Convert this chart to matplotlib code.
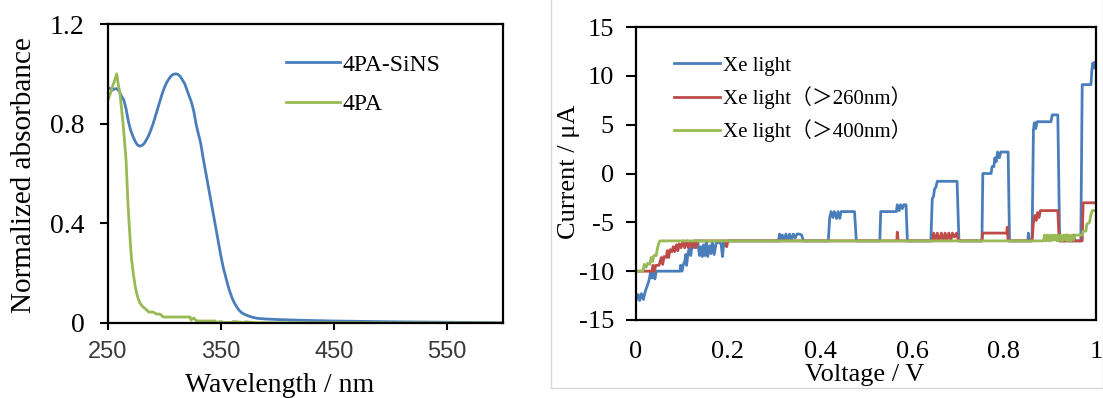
import matplotlib
matplotlib.use("Agg")
import matplotlib.pyplot as plt
from matplotlib.patches import Rectangle

plt.rcParams['font.family'] = ['Liberation Serif', 'Noto Sans CJK JP', 'DejaVu Sans']

# ---------------- Data: absorbance spectra ----------------
wl_sins = [250, 252, 254, 256, 258, 260, 262, 264, 266, 268, 270, 272, 274, 276, 278, 280, 282, 284,
           286, 288, 290, 292, 294, 296, 298, 300, 302, 304, 306, 308, 310, 312, 314, 316, 318, 320,
           322, 324, 326, 328, 330, 332, 334, 336, 338, 340, 342, 344, 346, 348, 350, 352, 354, 356,
           358, 360, 362, 364, 366, 368, 370, 374, 378, 382, 390, 400, 420, 450, 500, 550, 600]
abs_sins = [0.945, 0.94, 0.935, 0.94, 0.94, 0.93, 0.91, 0.895, 0.86, 0.81, 0.775, 0.75, 0.73, 0.715,
            0.71, 0.712, 0.72, 0.735, 0.752, 0.775, 0.80, 0.83, 0.86, 0.89, 0.92, 0.945, 0.965, 0.98,
            0.992, 0.998, 1.0, 0.998, 0.99, 0.975, 0.96, 0.935, 0.91, 0.885, 0.85, 0.80, 0.76, 0.725,
            0.67, 0.62, 0.57, 0.52, 0.47, 0.42, 0.37, 0.32, 0.27, 0.225, 0.19, 0.155, 0.125, 0.10,
            0.08, 0.065, 0.052, 0.043, 0.037, 0.029, 0.023, 0.019, 0.016, 0.014, 0.011, 0.008, 0.005,
            0.003, 0.001]

wl_4pa = [250, 252, 254, 256, 257.7, 259, 260.6, 262, 263.6, 265, 266, 267, 268, 269, 270, 271,
          272.4, 274, 275.4, 277, 278.4, 281, 284.3, 286, 290, 293, 296, 299, 322.7, 323.5, 326,
          328, 330, 345, 346, 350, 352, 360, 361, 370, 372, 380, 600]
abs_4pa = [0.895, 0.92, 0.95, 0.975, 1.0, 0.96, 0.92, 0.86, 0.788, 0.71, 0.654, 0.55, 0.453, 0.38,
           0.306, 0.25, 0.199, 0.15, 0.119, 0.095, 0.079, 0.065, 0.052, 0.044, 0.044, 0.036, 0.036,
           0.024, 0.024, 0.012, 0.020, 0.010, 0.008, 0.008, 0.002, 0.006, 0.002, 0.002, 0.006,
           0.002, 0.005, 0.001, 0.0]

abs_xticks = [250, 350, 450, 550]
abs_yticks = [0, 0.4, 0.8, 1.2]
abs_yticklabels = ['0', '0.4', '0.8', '1.2']

# ---------------- Data: I-V curves ----------------
v_xe = [0.000, 0.005, 0.008, 0.012, 0.016, 0.019, 0.022, 0.026, 0.029, 0.032, 0.035, 0.038, 0.041,
        0.044, 0.096, 0.097, 0.100, 0.103, 0.106, 0.108, 0.110, 0.113, 0.116, 0.119, 0.122, 0.125,
        0.128, 0.134, 0.138, 0.141, 0.144, 0.147, 0.150, 0.153, 0.156, 0.160, 0.163, 0.166, 0.170,
        0.174, 0.178, 0.185, 0.188, 0.191, 0.195, 0.198, 0.310, 0.312, 0.315, 0.318, 0.322, 0.326,
        0.330, 0.334, 0.338, 0.342, 0.346, 0.350, 0.355, 0.360, 0.364, 0.418, 0.421, 0.424, 0.428,
        0.431, 0.436, 0.439, 0.443, 0.446, 0.475, 0.479, 0.530, 0.532, 0.566, 0.568, 0.572, 0.575,
        0.579, 0.582, 0.587, 0.590, 0.641, 0.644, 0.647, 0.649, 0.652, 0.655, 0.698, 0.702, 0.752,
        0.754, 0.772, 0.774, 0.778, 0.780, 0.783, 0.786, 0.790, 0.793, 0.809, 0.812, 0.852, 0.853,
        0.855, 0.861, 0.864, 0.866, 0.869, 0.872, 0.902, 0.905, 0.917, 0.921, 0.967, 0.970, 0.989,
        0.991, 0.993, 0.995, 0.997, 1.000]
i_xe = [-13.0, -12.4, -13.0, -12.3, -12.9, -12.3, -11.8, -11.3, -10.8, -10.0, -10.7, -10.0, -10.8,
        -10.0, -10.0, -9.4, -10.0, -9.3, -9.0, -8.3, -9.4, -8.2, -7.6, -8.4, -7.2, -7.6,
        -6.9, -6.9, -8.4, -7.5, -8.5, -7.3, -8.4, -7.0, -8.5, -7.4, -8.2, -7.0, -8.3,
        -7.2, -7.0, -7.2, -8.5, -7.0, -7.4, -6.9, -6.9, -6.2, -6.9, -6.3, -6.8, -6.2,
        -6.8, -6.2, -6.8, -6.2, -6.6, -6.2, -6.2, -6.3, -6.9, -6.9, -4.6, -3.9, -4.5,
        -3.9, -4.6, -3.9, -4.6, -3.9, -3.9, -6.9, -6.9, -3.9, -3.9, -3.2, -3.8, -3.2,
        -3.6, -3.2, -3.2, -6.9, -6.9, -2.6, -2.3, -1.6, -1.4, -0.8, -0.8, -6.9, -6.9,
        0.0, 0.0, 0.7, 0.7, 1.6, 1.2, 2.2, 1.6, 2.2, 2.2, -6.9, -6.9, -6.1,
        -6.9, -6.9, 4.5, 5.2, 4.6, 5.3, 5.3, 6.0, 6.0, -6.9, -6.9, 9.1, 9.1,
        10.6, 11.3, 10.8, 11.4, 11.3]

v_260 = [0.000, 0.035, 0.037, 0.040, 0.043, 0.050, 0.055, 0.058, 0.061, 0.066, 0.068, 0.071, 0.074,
         0.078, 0.081, 0.084, 0.088, 0.091, 0.094, 0.098, 0.102, 0.106, 0.110, 0.114, 0.118, 0.122,
         0.127, 0.130, 0.134, 0.195, 0.197, 0.200, 0.567, 0.568, 0.570, 0.645, 0.647, 0.650, 0.655,
         0.658, 0.664, 0.667, 0.672, 0.675, 0.680, 0.684, 0.688, 0.692, 0.697, 0.701, 0.752, 0.754,
         0.806, 0.807, 0.809, 0.861, 0.864, 0.867, 0.870, 0.873, 0.876, 0.879, 0.917, 0.920, 0.934,
         0.936, 0.938, 0.950, 0.952, 0.954, 0.970, 0.972, 1.000]
i_260 = [-10.0, -10.0, -9.4, -10.0, -9.4, -9.4, -8.6, -9.3, -8.5, -8.6, -7.9, -8.6, -7.8,
         -8.0, -7.5, -8.0, -7.3, -7.9, -7.2, -7.6, -6.9, -7.6, -6.9, -7.6, -7.0, -7.5,
         -6.9, -7.6, -6.9, -6.9, -7.5, -6.9, -6.9, -6.0, -6.9, -6.9, -6.1, -6.9, -6.1,
         -6.9, -6.1, -6.9, -6.1, -6.9, -6.1, -6.9, -6.1, -6.5, -6.1, -6.9, -6.9, -6.1,
         -6.1, -5.5, -6.9, -6.9, -5.0, -4.3, -4.8, -4.0, -4.5, -3.8, -3.8, -6.9, -6.9,
         -6.3, -6.9, -6.9, -6.3, -6.9, -6.9, -3.0, -3.0]

v_400 = [0.000, 0.015, 0.018, 0.022, 0.025, 0.030, 0.033, 0.036, 0.039, 0.044, 0.046, 0.049, 0.052,
         0.886, 0.888, 0.891, 0.894, 0.897, 0.900, 0.903, 0.906, 0.909, 0.912, 0.915, 0.918, 0.921,
         0.924, 0.927, 0.930, 0.933, 0.936, 0.939, 0.942, 0.945, 0.948, 0.951, 0.955, 0.970, 0.972,
         0.978, 0.980, 0.986, 0.989, 0.992, 1.000]
i_400 = [-10.0, -10.0, -9.3, -9.6, -9.2, -9.3, -8.6, -9.0, -8.4, -8.4, -7.8, -7.2, -6.9,
         -6.9, -6.3, -6.9, -6.3, -6.9, -6.3, -6.9, -6.3, -6.8, -6.3, -6.9, -6.3, -6.9,
         -6.3, -6.9, -6.3, -6.8, -6.3, -6.9, -6.3, -6.9, -6.3, -6.8, -6.3, -6.3, -5.9,
         -5.9, -5.2, -5.0, -4.2, -3.8, -3.8]

iv_xticks = [0, 0.2, 0.4, 0.6, 0.8, 1.0]
iv_xticklabels = ['0', '0.2', '0.4', '0.6', '0.8', '1']
iv_yticks = [-15, -10, -5, 0, 5, 10, 15]
iv_yticklabels = ['-15', '-10', '-5', '0', '5', '10', '15']

BLUE = '#4A7EBB'
RED = '#BE4B48'
GREEN = '#98B954'
LW = 2.0

W, H = 1103, 398
fig = plt.figure(figsize=(W / 100, H / 100), dpi=100)

def fx(px):
    return px / W

def fy(py):
    return (H - py) / H

# ---------------- Left panel ----------------
ax1 = fig.add_axes([fx(108), fy(323), fx(503) - fx(108), fy(24) - fy(323)])
ax1.plot(wl_sins, abs_sins, color=BLUE, lw=LW, label='4PA-SiNS')
ax1.plot(wl_4pa, abs_4pa, color=GREEN, lw=LW, label='4PA')
ax1.set_xlim(250, 600)
ax1.set_ylim(0, 1.2)
ax1.set_xticks(abs_xticks)
ax1.set_xticklabels([str(t) for t in abs_xticks], family='Liberation Sans', fontsize=17, color='#3a3a3a')
ax1.set_yticks(abs_yticks)
ax1.set_yticklabels(abs_yticklabels, fontsize=20)
ax1.tick_params(axis='y', direction='out', length=6, width=1.5, pad=11)
ax1.tick_params(axis='x', direction='out', length=5, width=1.5, pad=8)
for s in ax1.spines.values():
    s.set_linewidth(1.6)
leg1 = ax1.legend(loc='upper left', bbox_to_anchor=(fx(286), fy(54)), bbox_transform=fig.transFigure,
                  frameon=False, fontsize=17, handlelength=2.3, handletextpad=0.1,
                  labelspacing=0.75, borderpad=0, borderaxespad=0)
fig.text(fx(24), fy(175), 'Normalized absorbance', rotation=90, ha='center', va='center', fontsize=21)
fig.text(fx(280), fy(392), 'Wavelength / nm', ha='center', va='baseline', fontsize=20)

# ---------------- Right panel ----------------
ax2 = fig.add_axes([fx(636), fy(320), fx(1096) - fx(636), fy(27) - fy(320)])
ax2.plot(v_xe, i_xe, color=BLUE, lw=LW, label='Xe light')
ax2.plot(v_260, i_260, color=RED, lw=LW, label='Xe light（＞260nm）')
ax2.plot(v_400, i_400, color=GREEN, lw=LW, label='Xe light（＞400nm）')
ax2.set_xlim(0, 1)
ax2.set_ylim(-15, 15)
ax2.set_xticks(iv_xticks)
ax2.set_xticklabels(iv_xticklabels, fontsize=19)
ax2.set_yticks(iv_yticks)
ax2.set_yticklabels(iv_yticklabels, fontsize=19)
ax2.tick_params(axis='y', direction='out', length=7, width=1.5, pad=9)
ax2.tick_params(axis='x', length=0, pad=15)
for s in ax2.spines.values():
    s.set_linewidth(1.6)
leg2 = ax2.legend(loc='upper left', bbox_to_anchor=(fx(674), fy(56)), bbox_transform=fig.transFigure,
                  frameon=False, fontsize=15, handlelength=2.2, handletextpad=0.15,
                  labelspacing=0.5, borderpad=0, borderaxespad=0)
fig.text(fx(569), fy(172), 'Current / μA', rotation=90, ha='center', va='center', fontsize=19)
fig.text(fx(865), fy(381), 'Voltage / V', ha='center', va='baseline', fontsize=19)

# light frame around the right panel
fig.add_artist(Rectangle((fx(551), fy(388)), fx(1103) - fx(551), fy(0) - fy(388) + 0.01,
                         transform=fig.transFigure, fill=False, edgecolor='#d9d9d9', lw=1.0))

fig.savefig('out.png', dpi=100)
